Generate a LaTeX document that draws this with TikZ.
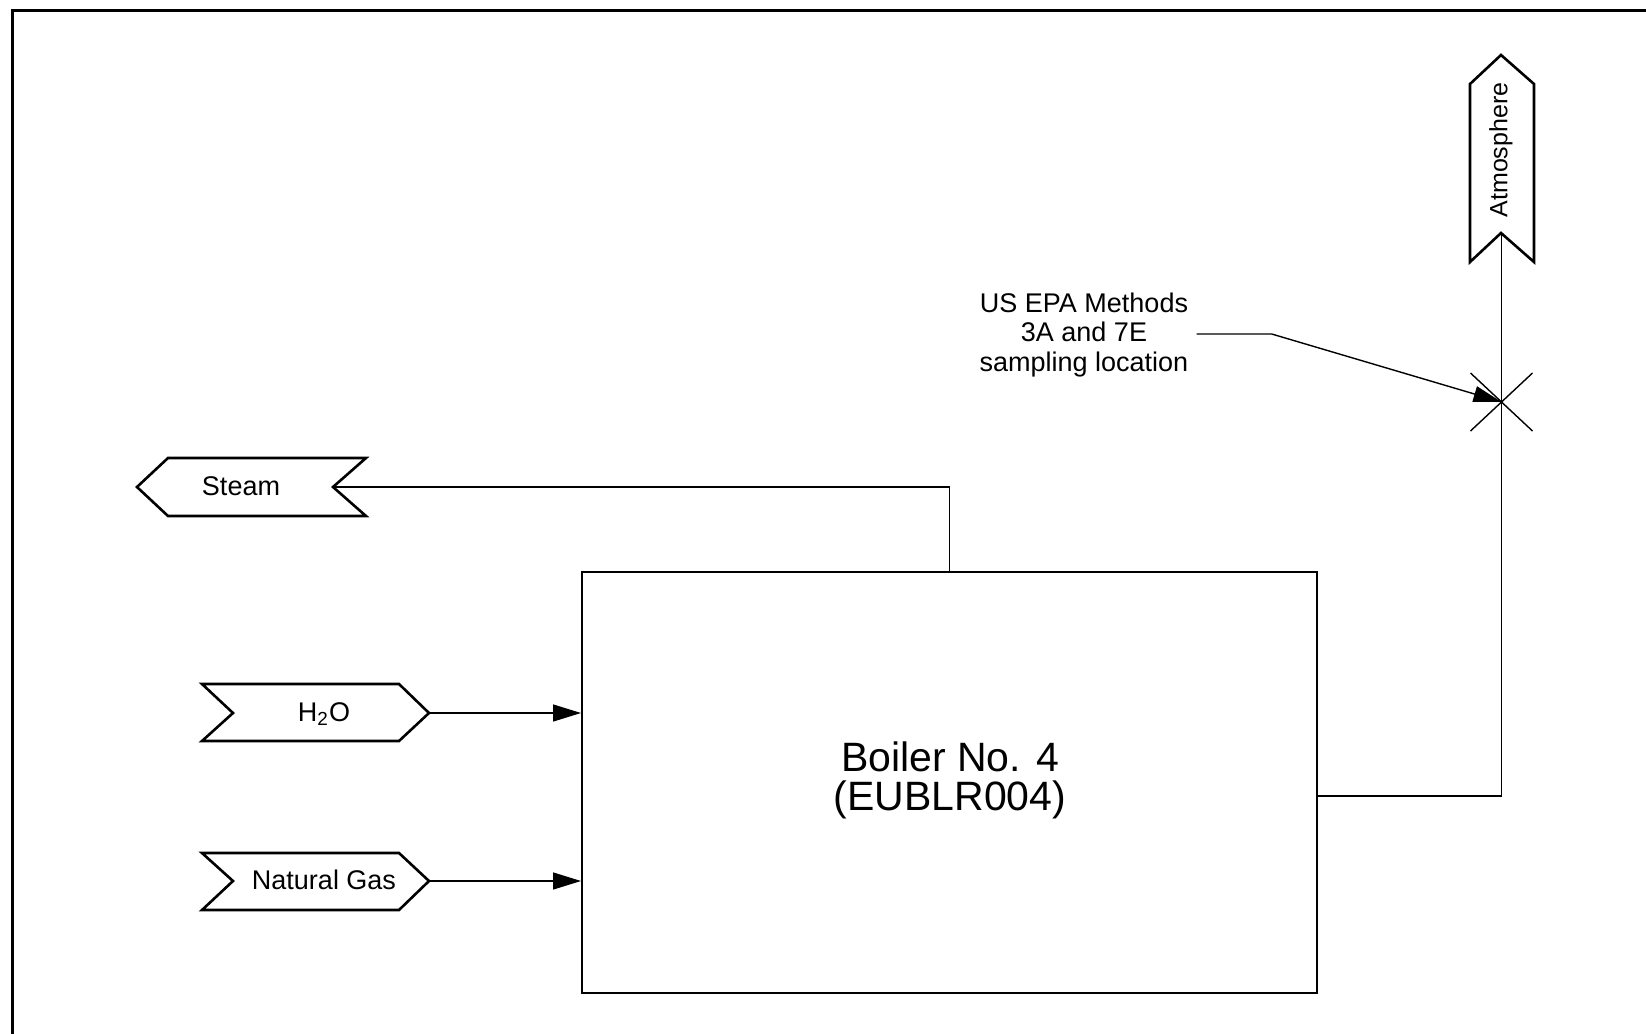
\documentclass[tikz,border=0pt]{standalone}
\usepackage{fontspec}
\setmainfont{Liberation Sans}
\usetikzlibrary{arrows.meta}
\begin{document}
\begin{tikzpicture}[x=0.5pt,y=-0.5pt,
  frame/.style={line width=1.5pt},
  flow/.style={line width=1.3pt, line join=miter, fill=white},
  pipe/.style={line width=0.7pt},
  feed/.style={pipe, -{Triangle[length=14pt,width=8.5pt]}},
  lbl/.style={font=\fontsize{13.5}{14.75}\selectfont, inner sep=0pt},
]
\useasboundingbox (0,0) rectangle (1646,1034);
% page frame
\draw[frame] (12.5,1040) -- (12.5,10) -- (1650,10);

% boiler
\node[draw, line width=1pt, minimum width=367.5pt, minimum height=210.5pt, inner sep=0pt] (boiler) at (949.5,782.5) {};
\node[font=\fontsize{20.5}{19.5}\selectfont, align=center, inner sep=0pt] (boilertxt) at (950,780) {Boiler No. 4\\(EUBLR004)};

% Steam (outgoing)
\draw[flow] (137,487) -- (168,458) -- (366,458) -- (333,487) -- (366,516) -- (168,516) -- cycle;
\coordinate (steamin) at (333,487);
\node[lbl] (steam) at (241,486) {Steam};

% H2O (incoming)
\draw[flow] (202,684) -- (399,684) -- (429,713) -- (399,741) -- (202,741) -- (233,713) -- cycle;
\coordinate (h2otip) at (429,713);
\node[lbl] (h2o) at (324,714) {H\textsubscript{2}O};

% Natural gas (incoming)
\draw[flow] (202,853) -- (399,853) -- (429,881) -- (399,910) -- (202,910) -- (233,881) -- cycle;
\coordinate (ngtip) at (429,881);
\node[lbl] (ng) at (324,880) {Natural Gas};

% Atmosphere (outgoing)
\draw[flow] (1501,55) -- (1534,84) -- (1534,262) -- (1501,233) -- (1470,262) -- (1470,84) -- cycle;
\coordinate (atmin) at (1501.5,233);
\node[lbl, font=\fontsize{12.5}{14}\selectfont, rotate=90] (atm) at (1501,150) {Atmosphere};

% connectors
\draw[pipe] (boiler.north) |- (steamin);
\draw[feed] (h2otip) -- (h2otip -| boiler.west);
\draw[feed] (ngtip) -- (ngtip -| boiler.west);
\coordinate (outlet) at ([yshift=-6.75pt]boiler.east);
\draw[pipe] (outlet) -| (atmin);

% sampling location
\coordinate (sample) at (1501.5,402);
\draw[pipe] (sample) ++(-31,-29) -- ++(62,58);
\draw[pipe] (sample) ++(31,-29) -- ++(-62,58);
\node[lbl, align=center] (epa) at (1084,335) {US EPA Methods\\3A and 7E\\sampling location};
\draw[pipe, -{Triangle[length=14pt,width=8pt]}] ([xshift=4pt,yshift=0.5pt]epa.east) -- ++(75,0) -- (sample);
\end{tikzpicture}
\end{document}
